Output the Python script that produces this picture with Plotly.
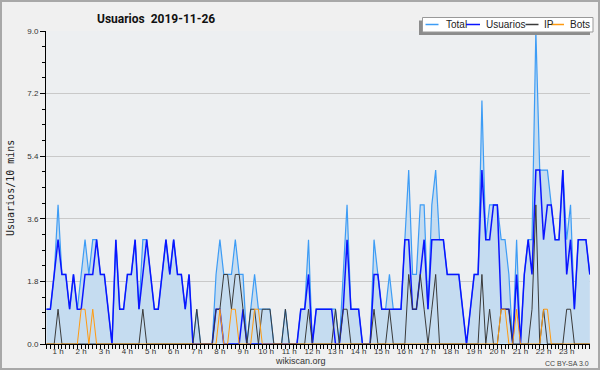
import plotly.graph_objects as go

# ---- data (10-minute buckets) ----
usuarios = [1,1,2,3,2,2,1,2,1,1,
            2,2,2,3,2,2,1,0,3,1,
            1,2,2,3,1,2,3,2,1,1,
            2,3,2,3,2,2,1,2,0,0,
            0,0,0,0,1,1,0,0,0,0,
            0,1,0,0,0,0,0,0,0,0,
            0,0,0,0,0,0,1,1,2,0,
            1,1,1,1,1,0,0,1,3,1,
            1,1,0,0,0,2,2,1,1,1,
            1,1,1,3,3,1,1,2,3,1,
            3,3,3,3,2,2,2,2,1,0,
            1,2,2,5,3,3,4,4,1,1,
            1,0,2,0,2,3,2,5,5,3,
            4,4,3,3,5,2,3,1,3,3,
            3,2]
ip = [0,0,0,1,0,0,0,0,0,0,
      0,0,0,0,0,0,0,0,0,0,
      0,0,0,0,0,1,0,0,0,0,
      0,0,0,0,0,0,0,0,0,1,
      0,0,0,0,1,1,2,2,1,2,
      2,1,0,1,1,0,1,1,1,0,
      0,0,1,0,0,0,0,0,1,0,
      0,0,0,0,0,1,0,1,1,0,
      0,0,0,0,0,1,0,0,0,1,
      0,0,0,0,2,1,1,2,1,0,
      1,2,0,0,0,0,0,0,0,0,
      0,0,0,2,0,1,0,0,1,1,
      1,0,0,0,0,0,1,4,0,1,
      0,0,0,0,0,1,1,0,0,0,
      0,0]
bots = [0,0,0,0,0,0,0,0,0,1,
        1,0,1,0,0,0,0,0,0,0,
        0,0,0,0,0,0,0,0,0,0,
        0,0,0,0,0,0,0,0,0,0,
        0,0,0,0,0,1,0,0,1,1,
        0,0,0,0,1,1,0,0,0,0,
        0,0,0,0,0,0,0,0,0,0,
        0,0,0,0,0,0,0,0,0,0,
        0,0,0,0,0,0,0,0,0,0,
        0,0,0,0,0,0,0,0,0,0,
        0,0,0,0,0,0,0,0,0,0,
        0,0,0,0,0,0,0,0,1,1,
        0,0,1,0,0,0,0,0,0,1,
        1,0,0,0,0,0,0,0,0,0,
        0,0]
total = [1,1,2,4,2,2,1,2,1,2,
         3,2,3,3,2,2,1,0,3,1,
         1,2,2,3,1,3,3,2,1,1,
         2,3,2,3,2,2,1,2,0,1,
         0,0,0,0,2,3,2,2,2,3,
         2,2,0,1,2,1,1,1,1,0,
         0,0,1,0,0,0,1,1,3,0,
         1,1,1,1,1,1,0,2,4,1,
         1,1,0,0,0,3,2,1,1,2,
         1,1,1,3,5,2,2,4,4,1,
         4,5,3,3,2,2,2,2,1,0,
         1,2,2,7,3,4,4,4,3,3,
         2,0,3,0,2,3,3,9,5,5,
         5,4,3,3,5,3,4,1,3,3,
         3,2]
hour_labels = [f"{h} h" for h in range(1, 24)]
y_ticks = [0.0, 1.8, 3.6, 5.4, 7.2, 9.0]

x = list(range(len(total)))

C_TOTAL = "#3d9cf5"
C_USU = "#0a14ff"
C_IP = "#3a3a3a"
C_BOTS = "#ff9a10"

fig = go.Figure()
fig.add_trace(go.Scatter(x=x, y=total, mode="lines", name="Total",
                         line=dict(color=C_TOTAL, width=1.2),
                         fill="tozeroy", fillcolor="#c5dcf0"))
fig.add_trace(go.Scatter(x=x, y=usuarios, mode="lines", name="Usuarios",
                         line=dict(color=C_USU, width=1.5)))
fig.add_trace(go.Scatter(x=x, y=ip, mode="lines", name="IP",
                         line=dict(color=C_IP, width=1)))
fig.add_trace(go.Scatter(x=x, y=bots, mode="lines", name="Bots",
                         line=dict(color=C_BOTS, width=1)))

# plot area in pixels
L, R, T, B = 46, 590, 31, 344
W, H = 600, 370
def px(v):
    return (v - L) / (R - L)
def py(v):
    return (B - v) / (B - T)

fig.update_layout(
    width=W, height=H, autosize=False,
    margin=dict(l=L, r=W - R, t=T, b=H - B),
    paper_bgcolor="#f0f0f0", plot_bgcolor="#edeff1",
    showlegend=False,
    font=dict(family="Liberation Sans, Arial, sans-serif", color="#333"),
)
fig.update_xaxes(
    range=[-0.13, 141.05],
    tickvals=[6 * h - 3 for h in range(1, 24)], ticktext=hour_labels,
    ticks="outside", ticklen=4, tickcolor="black", tickwidth=1,
    minor=dict(tick0=0, dtick=1, ticks="outside", ticklen=4, tickcolor="black", showgrid=False),
    showgrid=False, zeroline=False, showline=True, linecolor="black", linewidth=1,
    tickfont=dict(size=8, color="#333"), ticklabelstandoff=-5,
)
fig.update_yaxes(
    range=[0, 9], tickvals=y_ticks, ticktext=[f"{v:.1f}" for v in y_ticks],
    ticks="outside", ticklen=5, tickcolor="black",
    minor=dict(dtick=0.45, tick0=0, ticks="outside", ticklen=3, tickcolor="black", showgrid=False),
    showgrid=True, gridcolor="#c9c9c9", gridwidth=1,
    zeroline=False, showline=True, linecolor="black", linewidth=1,
    tickfont=dict(size=8, color="#333"),
)

shapes = []
ann = []
# outer border
shapes.append(dict(type="rect", xref="paper", yref="paper", x0=px(1), x1=px(599), y0=py(1), y1=py(369),
                   line=dict(color="#a8a8a8", width=2), fillcolor="rgba(0,0,0,0)", layer="above"))
# legend box with shadow
shapes.append(dict(type="rect", xref="paper", yref="paper", x0=px(419), x1=px(590), y0=py(20.5), y1=py(35),
                   line=dict(width=0), fillcolor="#8c8c8c", layer="above"))
shapes.append(dict(type="rect", xref="paper", yref="paper", x0=px(422.5), x1=px(593), y0=py(17.5), y1=py(32),
                   line=dict(color="#999999", width=1), fillcolor="white", layer="above"))
legend_items = [("Total", C_TOTAL, 425.5, 438.5, 443.5),
                ("Usuarios", C_USU, 466, 480, 484),
                ("IP", C_IP, 525.5, 538.5, 542),
                ("Bots", C_BOTS, 551, 564, 567.5)]
for name, col, lx0, lx1, tx in legend_items:
    shapes.append(dict(type="line", xref="paper", yref="paper", x0=px(lx0), x1=px(lx1), y0=py(24.5), y1=py(24.5),
                       line=dict(color=col, width=1.5), layer="above"))
    ann.append(dict(text=name, xref="paper", yref="paper", x=px(tx), y=py(24.8), xanchor="left", yanchor="middle",
                    showarrow=False, font=dict(size=10, color="#222", family="Liberation Sans, Arial")))
# title
ann.append(dict(text="<b>Usuarios\u00a0 2019-11-26</b>", xref="paper", yref="paper", x=px(156), y=py(19),
                xanchor="center", yanchor="middle", showarrow=False,
                font=dict(size=12, color="#111", family="Roboto, Liberation Sans, Arial")))
# y axis title
ann.append(dict(text="Usuarios/10 mins", xref="paper", yref="paper", x=px(10), y=py(188), textangle=-90,
                xanchor="center", yanchor="middle", showarrow=False,
                font=dict(size=10, color="#222", family="DejaVu Sans Mono, monospace")))
# footer
ann.append(dict(text="wikiscan.org", xref="paper", yref="paper", x=px(300), y=py(361.5),
                xanchor="center", yanchor="middle", showarrow=False,
                font=dict(size=9, color="#333", family="Liberation Sans, Arial")))
ann.append(dict(text="CC BY-SA 3.0", xref="paper", yref="paper", x=px(591), y=py(363),
                xanchor="right", yanchor="middle", showarrow=False,
                font=dict(size=7, color="#444", family="Liberation Sans, Arial")))

fig.update_layout(shapes=shapes, annotations=ann)
fig.write_html("out.html", config={"displayModeBar": False},
               post_script="document.body.style.margin='0';document.body.style.overflow='hidden';")
